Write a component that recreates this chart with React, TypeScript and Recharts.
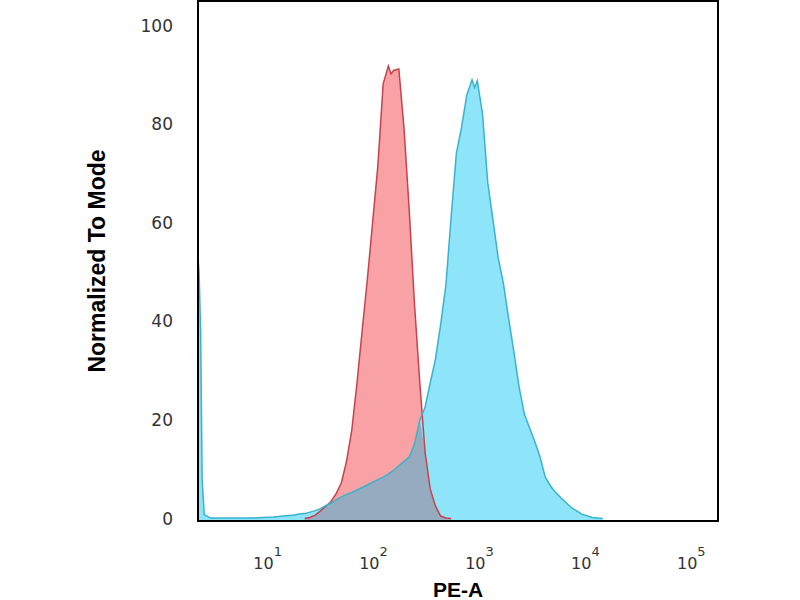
import { ComposedChart, Area, Line, XAxis, YAxis, Label, ReferenceArea } from "recharts";

// log10(PE-A) positions sampled along the x axis
const logPE = [
  0.343, 0.353, 0.368, 0.382, 0.402, 0.461, 0.56, 0.659, 0.758, 0.856, 0.955, 1.054, 1.153, 1.251, 1.301,
  1.35, 1.4, 1.449, 1.498, 1.548, 1.597, 1.646, 1.696, 1.745, 1.795, 1.844, 1.893, 1.943, 1.992, 2.041,
  2.091, 2.14, 2.165, 2.19, 2.239, 2.288, 2.338, 2.387, 2.437, 2.486, 2.535, 2.585, 2.634, 2.683, 2.733,
  2.782, 2.831, 2.881, 2.93, 2.955, 2.98, 3.029, 3.078, 3.128, 3.177, 3.226, 3.276, 3.325, 3.374, 3.424,
  3.473, 3.523, 3.572, 3.621, 3.671, 3.72, 3.769, 3.868, 3.967, 4.066, 4.164, 5.25,
];

// isotype control (red); null = no events drawn
const control: (number | null)[] = [
  null, null, null, null, null, null, null, null, null, null, null, null, null, null, null,
  0, 0.2, 0.7, 1.5, 2.5, 3.4, 5.0, 7.2, 11.6, 18.0, 27.5, 38.2, 48.8, 60.2, 71.6,
  88.2, 91.8, 90.2, 90.9, 91.2, 79.1, 62.2, 43.4, 27.5, 13.6, 6.0, 2.5, 0.5, 0.1, 0,
  null, null, null, null, null, null, null, null, null, null, null, null, null, null, null,
  null, null, null, null, null, null, null, null, null, null, null, null,
];

// stained sample (blue)
const stained: (number | null)[] = [
  53.0, 50.0, 38.0, 8.0, 0.8, 0.1, 0.1, 0.1, 0.1, 0.1, 0.2, 0.3, 0.5, 0.7, 0.9,
  1.0, 1.3, 1.6, 2.0, 2.6, 3.1, 3.8, 4.4, 4.9, 5.3, 5.8, 6.3, 6.8, 7.4, 7.9,
  8.4, 9.0, 9.4, 9.8, 10.7, 11.6, 12.5, 15.1, 20.0, 22.5, 27.5, 32.4, 39.4, 47.3, 61.2,
  74.1, 79.4, 86.0, 89.0, 87.4, 88.8, 82.1, 68.2, 60.5, 52.9, 47.7, 40.5, 33.8, 26.7, 21.2,
  18.4, 15.6, 12.5, 8.4, 6.6, 5.3, 4.2, 2.2, 0.9, 0.2, 0, null,
];

const xTicks = [1, 2, 3, 4, 5];
const yTicks = [0, 20, 40, 60, 80, 100];

const data = logPE.map((x, i) => {
  const c = control[i];
  const s = stained[i];
  return {
    x,
    control: c,
    stained: s,
    overlap: c == null || s == null ? null : Math.min(c, s),
  };
});

const X_DOMAIN: [number, number] = [0.343, 5.252];
const Y_DOMAIN: [number, number] = [-0.5, 105];

const XTick = ({ x, y, payload }: any) => (
  <text x={x} y={y + 46} textAnchor="middle" fontFamily="DejaVu Sans" fontSize={16} fill="#333">
    10
    <tspan dy={-13} fontSize={13}>
      {payload.value}
    </tspan>
  </text>
);

const YTick = ({ x, y, payload }: any) => (
  <text x={x} y={y} textAnchor="end" dominantBaseline="central" fontFamily="DejaVu Sans" fontSize={17} fill="#333">
    {payload.value}
  </text>
);

export default function App() {
  return (
    <div style={{ position: "absolute", left: 0, top: 0, width: 800, height: 600, background: "#fff" }}>
      <ComposedChart width={800} height={600} data={data} margin={{ top: 1, right: 82, bottom: 0, left: 0 }}>
        <XAxis
          dataKey="x"
          type="number"
          domain={X_DOMAIN}
          allowDataOverflow
          ticks={xTicks}
          tick={<XTick />}
          tickLine={false}
          tickSize={0}
          height={79}
          axisLine={{ stroke: "#000", strokeWidth: 2 }}
        >
          <Label
            content={() => (
              <text x={458} y={597} textAnchor="middle" fontFamily="Liberation Sans" fontWeight="bold" fontSize={21} fill="#000">
                PE-A
              </text>
            )}
          />
        </XAxis>
        <YAxis
          type="number"
          domain={Y_DOMAIN}
          allowDataOverflow
          ticks={yTicks}
          tick={<YTick />}
          tickLine={false}
          tickSize={0}
          tickMargin={25}
          width={198}
          axisLine={{ stroke: "#000", strokeWidth: 2 }}
        >
          <Label
            content={() => (
              <text
                x={97}
                y={261}
                transform="rotate(-90 97 261)"
                textAnchor="middle"
                dominantBaseline="central"
                fontFamily="Liberation Sans"
                fontWeight="bold"
                fontSize={23}
                fill="#000"
              >
                Normalized To Mode
              </text>
            )}
          />
        </YAxis>
        <Area
          dataKey="control"
          type="linear"
          baseValue={-0.5}
          fill="#f9a2a5"
          fillOpacity={1}
          stroke="none"
          isAnimationActive={false}
        />
        <Area
          dataKey="stained"
          type="linear"
          baseValue={-0.5}
          fill="#8ee5f9"
          fillOpacity={1}
          stroke="none"
          isAnimationActive={false}
        />
        <Area
          dataKey="overlap"
          type="linear"
          baseValue={-0.5}
          fill="#97abc0"
          fillOpacity={1}
          stroke="none"
          isAnimationActive={false}
        />
        <Line dataKey="control" type="linear" stroke="#c7424d" strokeWidth={1.5} dot={false} isAnimationActive={false} />
        <Line dataKey="stained" type="linear" stroke="#3ab2cc" strokeWidth={1.5} dot={false} isAnimationActive={false} />
        <ReferenceArea
          x1={X_DOMAIN[0]}
          x2={X_DOMAIN[1]}
          y1={Y_DOMAIN[0]}
          y2={Y_DOMAIN[1]}
          fill="none"
          fillOpacity={0}
          stroke="#000"
          strokeWidth={2}
          ifOverflow="visible"
        />
      </ComposedChart>
    </div>
  );
}
